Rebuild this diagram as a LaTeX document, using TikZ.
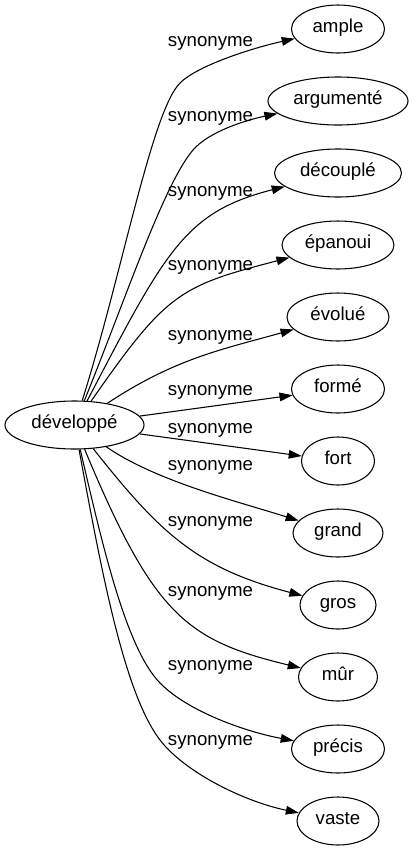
\documentclass[tikz,border=0pt]{standalone}
\usepackage{fontspec}
\setmainfont{Liberation Sans}
\usetikzlibrary{positioning,calc,arrows,arrows.meta,shapes.geometric}
\tikzset{font=\fontsize{14pt}{16pt}\selectfont}

\begin{document}
\begin{tikzpicture}[x=0.75pt,y=-0.75pt]
	\useasboundingbox (0,0) rectangle (414,851);
	\begin{scope}
		\tikzstyle{every node}=[align=center, inner sep=1pt]
		\tikzstyle{word}=[ellipse, draw, line width=0.8pt, inner sep=0pt, minimum height=36pt, text height=0.73em, text depth=0.21em]
		\tikzstyle{link}=[-{Triangle[length=9.75pt, width=6.5pt]}, line width=0.8pt]
		\node[word, minimum width=104.25pt] (dev) at (74.5, 425) {développé};

		\node[word, minimum width=69.75pt] (amp) at (338, 29) {ample};
		\node[word, minimum width=105pt] (arg) at (338, 101) {argumenté};
		\node[word, minimum width=95.25pt] (dec) at (338, 173) {découplé};
		\node[word, minimum width=84pt] (epa) at (338, 245) {épanoui};
		\node[word, minimum width=76.5pt] (evo) at (338, 317) {évolué};
		\node[word, minimum width=69.75pt] (frm) at (338, 389) {formé};
		\node[word, minimum width=54.75pt] (frt) at (338, 461) {fort};
		\node[word, minimum width=67.5pt] (gra) at (338, 533) {grand};
		\node[word, minimum width=57pt] (gro) at (338, 605) {gros};
		\node[word, minimum width=59.25pt] (mur) at (338, 677) {mûr};
		\node[word, minimum width=69.75pt] (pre) at (338, 749) {précis};
		\node[word, minimum width=61.5pt] (vas) at (338, 821) {vaste};

		\node (s1) at (210.5, 43) {synonyme};
		\node (s2) at (210.5, 118) {synonyme};
		\node (s3) at (210.5, 193) {synonyme};
		\node (s4) at (210.5, 267) {synonyme};
		\node (s5) at (210.5, 337) {synonyme};
		\node (s6) at (210.5, 392) {synonyme};
		\node (s7) at (210.5, 430) {synonyme};
		\node (s8) at (210.5, 467) {synonyme};
		\node (s9) at (210.5, 523) {synonyme};
		\node (s10) at (210.5, 593) {synonyme};
		\node (s11) at (210.5, 667) {synonyme};
		\node (s12) at (210.5, 742) {synonyme};

		\draw[link] (dev) .. controls (121.7,275.5) and (151.7,111.3) .. (180,83) .. controls (197.7,65.3) and (253.2,47.8) .. (amp);
		\draw[link] (dev) .. controls (125.9,298) and (163.8,184.2) .. (193,150) .. controls (209.3,131) and (247.8,119.7) .. (arg);
		\draw[link] (dev) .. controls (166,250) and (185,212) .. (dec);
		\draw[link] (dev) .. controls (167,292) and (180,286) .. (epa);
		\draw[link] (dev) .. controls (175.4,358.3) and (222.2,349.4) .. (evo);
		\draw[link] (dev) -- (frm);
		\draw[link] (dev) -- (frt);
		\draw[link] (dev) .. controls (156,481) and (236,501) .. (gra);
		\draw[link] (dev) .. controls (159.9,532.9) and (196.2,567.8) .. (gro);
		\draw[link] (dev) .. controls (153.9,615.4) and (186.3,640.3) .. (mur);
		\draw[link] (dev) .. controls (100.9,537.8) and (125,647.3) .. (160,683) .. controls (188,711.6) and (245.8,731.8) .. (pre);
		\draw[link] (dev) .. controls (100.9,567.8) and (123.6,692.4) .. (160,740) .. controls (184.3,771.8) and (243.2,801.3) .. (vas);

	\end{scope}
\end{tikzpicture}
\end{document}
